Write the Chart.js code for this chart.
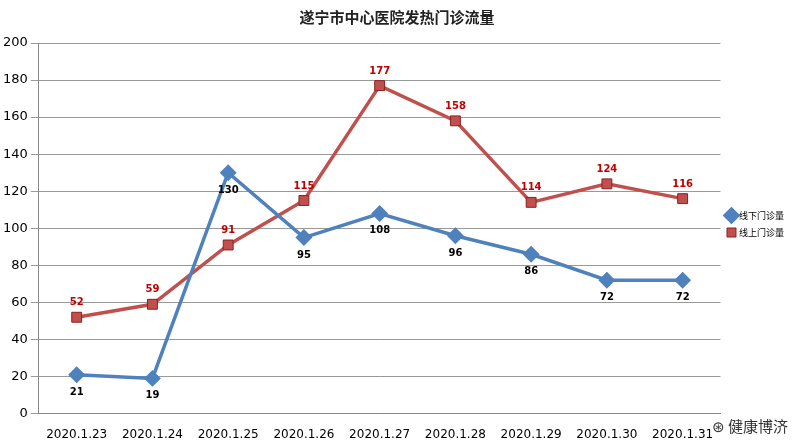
<!DOCTYPE html>
<html><head><meta charset="utf-8">
<script src="https://cdn.jsdelivr.net/npm/chart.js@4"></script>
<style>body{margin:0;background:#fff}#w{width:800px;height:448px;position:relative}
#wm{position:absolute;right:12px;bottom:12px;font:15px "Noto Sans CJK SC";color:#333}</style>
</head><body><div id="w"><canvas id="c" width="800" height="448"></canvas><div id="wm">⊛ 健康博济</div></div>
<script>
const categories=['2020.1.23','2020.1.24','2020.1.25','2020.1.26','2020.1.27','2020.1.28','2020.1.29','2020.1.30','2020.1.31'];
const offline=[21,19,130,95,108,96,86,72,72];
const online=[52,59,91,115,177,158,114,124,116];
const yTicks=[0,20,40,60,80,100,120,140,160,180,200];
const labels={id:'lbl',afterDatasetsDraw(ch){const x=ch.ctx;x.save();x.font='bold 10px "DejaVu Sans"';x.textAlign='center';
ch.data.datasets.forEach((d,i)=>{ch.getDatasetMeta(i).data.forEach((p,j)=>{x.fillStyle=i==0?'#000':'#c00000';x.fillText(d.data[j],p.x,i==0?p.y+20:p.y-12);});});x.restore();}};
new Chart(document.getElementById('c'),{type:'line',data:{labels:categories,datasets:[
{label:'线下门诊量',data:offline,borderColor:'#4f81bd',backgroundColor:'#4f81bd',borderWidth:3.5,pointStyle:'rectRot',pointRadius:6,tension:0},
{label:'线上门诊量',data:online,borderColor:'#c0504d',backgroundColor:'#c0504d',borderWidth:3.5,pointStyle:'rect',pointRadius:7,pointBorderColor:'#8b2020',pointBorderWidth:1,tension:0}]},
options:{responsive:false,animation:false,layout:{padding:{left:0,right:6,top:0,bottom:0}},
plugins:{title:{display:true,text:'遂宁市中心医院发热门诊流量',font:{family:'Noto Sans CJK SC',size:15,weight:'bold'},color:'#222',padding:{top:8,bottom:17}},
legend:{position:'right',labels:{usePointStyle:true,boxWidth:6,padding:8,font:{family:'Noto Sans CJK SC',size:9},color:'#000'}}},
scales:{x:{offset:true,grid:{display:false},border:{color:'#888'},ticks:{color:'#000',padding:6,font:{family:'DejaVu Sans',size:12}}},
y:{min:0,max:200,afterBuildTicks:a=>{a.ticks=yTicks.map(v=>({value:v}))},grid:{color:'#999'},border:{color:'#888'},ticks:{color:'#000',font:{family:'DejaVu Sans',size:13}}}}},
plugins:[labels]});
</script></body></html>
